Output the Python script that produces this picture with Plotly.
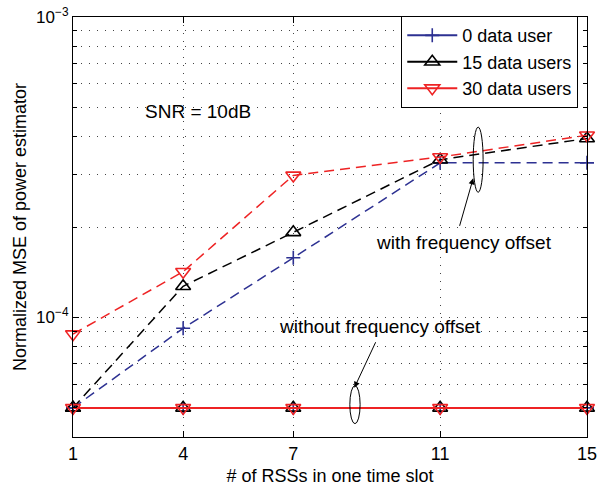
import numpy as np
import plotly.graph_objects as go

# ---------------- data ----------------
x_rss = [1, 4, 7, 11, 15]
x_ticks = [1, 4, 7, 11, 15]

# with frequency offset (dashed)
mse_0_off = [5.0e-5, 9.2e-5, 1.58e-4, 3.27e-4, 3.27e-4]
mse_15_off = [5.0e-5, 1.27e-4, 1.92e-4, 3.35e-4, 3.94e-4]
mse_30_off = [8.8e-5, 1.42e-4, 2.97e-4, 3.42e-4, 4.04e-4]

# without frequency offset (solid)
mse_0_nooff = [5.0e-5, 5.0e-5, 5.0e-5, 5.0e-5, 5.0e-5]
mse_15_nooff = [5.0e-5, 5.0e-5, 5.0e-5, 5.0e-5, 5.0e-5]
mse_30_nooff = [5.0e-5, 5.0e-5, 5.0e-5, 5.0e-5, 5.0e-5]

series_names = ["0 data user", "15 data users", "30 data users"]
y_major = [1e-4, 1e-3]
y_major_text = ["10<sup>−4</sup>", "10<sup>−3</sup>"]
y_minor = [4e-5, 5e-5, 6e-5, 7e-5, 8e-5, 9e-5,
           2e-4, 3e-4, 4e-4, 5e-4, 6e-4, 7e-4, 8e-4, 9e-4]

BLUE = "#2d3192"
BLACK = "#000000"
RED = "#ee2324"
FONT = "Liberation Sans, Arial, sans-serif"
FS = 18
FA = 19

fig = go.Figure()

styles = [
    (BLUE, "cross-thin-open", 10),
    (BLACK, "triangle-up-open", 13),
    (RED, "triangle-down-open", 13),
]

off_data = [mse_0_off, mse_15_off, mse_30_off]
nooff_data = [mse_0_nooff, mse_15_nooff, mse_30_nooff]

for (col, sym, sz), yv in zip(styles, off_data):
    fig.add_trace(go.Scatter(
        x=x_rss, y=yv, mode="lines+markers", showlegend=False,
        line=dict(color=col, width=1.5, dash="10px,6px"),
        marker=dict(symbol=sym, size=sz, color=col,
                    line=dict(color=col, width=1.6)),
        cliponaxis=False,
    ))

for (col, sym, sz), yv, name in zip(styles, nooff_data, series_names):
    fig.add_trace(go.Scatter(
        x=x_rss, y=yv, mode="lines+markers", name=name,
        line=dict(color=col, width=2),
        marker=dict(symbol=sym, size=sz, color=col,
                    line=dict(color=col, width=1.6)),
        cliponaxis=False,
    ))

# ellipses
fig.add_shape(type="circle", xref="x", yref="y",
              x0=11.90, x1=12.17, y0=2.61e-4, y1=4.30e-4,
              line=dict(color="black", width=1))
fig.add_shape(type="circle", xref="x", yref="y",
              x0=8.54, x1=8.82, y0=4.43e-5, y1=5.93e-5,
              line=dict(color="black", width=1))

# arrows
fig.add_annotation(x=11.90, y=-3.537, xref="x", yref="y", text="",
                   showarrow=True, ax=-14, ay=49, arrowhead=2,
                   arrowsize=1.2, arrowwidth=1, arrowcolor="black")
fig.add_annotation(x=8.663, y=-4.234, xref="x", yref="y", text="",
                   showarrow=True, ax=22, ay=-47, arrowhead=2,
                   arrowsize=1.2, arrowwidth=1, arrowcolor="black")

# texts
fig.add_annotation(x=11.65, y=-3.75, xref="x", yref="y",
                   text="with frequency offset", showarrow=False,
                   font=dict(family=FONT, size=FA, color="black"))
fig.add_annotation(x=9.36, y=-4.03, xref="x", yref="y",
                   text="without frequency offset", showarrow=False,
                   font=dict(family=FONT, size=FA, color="black"))
fig.add_annotation(x=4.40, y=-3.313, xref="x", yref="y",
                   text="SNR = 10dB", showarrow=False,
                   font=dict(family=FONT, size=FA, color="black"))

grid_dash = "1px,7px"

fig.update_xaxes(
    range=[1, 15], tickvals=x_ticks, ticktext=[str(v) for v in x_ticks],
    showline=True, linecolor="black", linewidth=1, mirror="allticks",
    ticks="inside", ticklen=6, tickcolor="black",
    showgrid=True, gridcolor="#444", gridwidth=1, griddash=grid_dash,
    zeroline=False, automargin=False, ticklabeloverflow="allow",
    title=dict(text="# of RSSs in one time slot", standoff=6,
               font=dict(family=FONT, size=FS, color="black")),
    tickfont=dict(family=FONT, size=FS, color="black"),
)
fig.update_yaxes(
    type="log", range=[np.log10(4e-5), -3],
    tickvals=y_major, ticktext=y_major_text,
    showline=True, linecolor="black", linewidth=1, mirror="allticks",
    ticks="inside", ticklen=6, tickcolor="black",
    showgrid=True, gridcolor="#444", gridwidth=1, griddash=grid_dash,
    minor=dict(tickvals=y_minor, ticks="inside", ticklen=4,
               tickcolor="black", showgrid=True, gridcolor="#444",
               gridwidth=1, griddash=grid_dash),
    zeroline=False, automargin=False, ticklabeloverflow="allow",
    title=dict(text="Normalized MSE of power estimator", standoff=4,
               font=dict(family=FONT, size=FS, color="black")),
    tickfont=dict(family=FONT, size=17, color="black"),
)

fig.update_layout(
    width=597, height=492,
    margin=dict(l=73, r=10, t=17, b=55),
    paper_bgcolor="white", plot_bgcolor="white",
    font=dict(family=FONT, size=FS, color="black"),
    legend=dict(x=0.983, y=1.002, xanchor="right", yanchor="top",
                bgcolor="white", bordercolor="black", borderwidth=1,
                font=dict(family=FONT, size=FS, color="black"),
                tracegroupgap=0, itemwidth=50),
)

fig.write_html("out.html")
